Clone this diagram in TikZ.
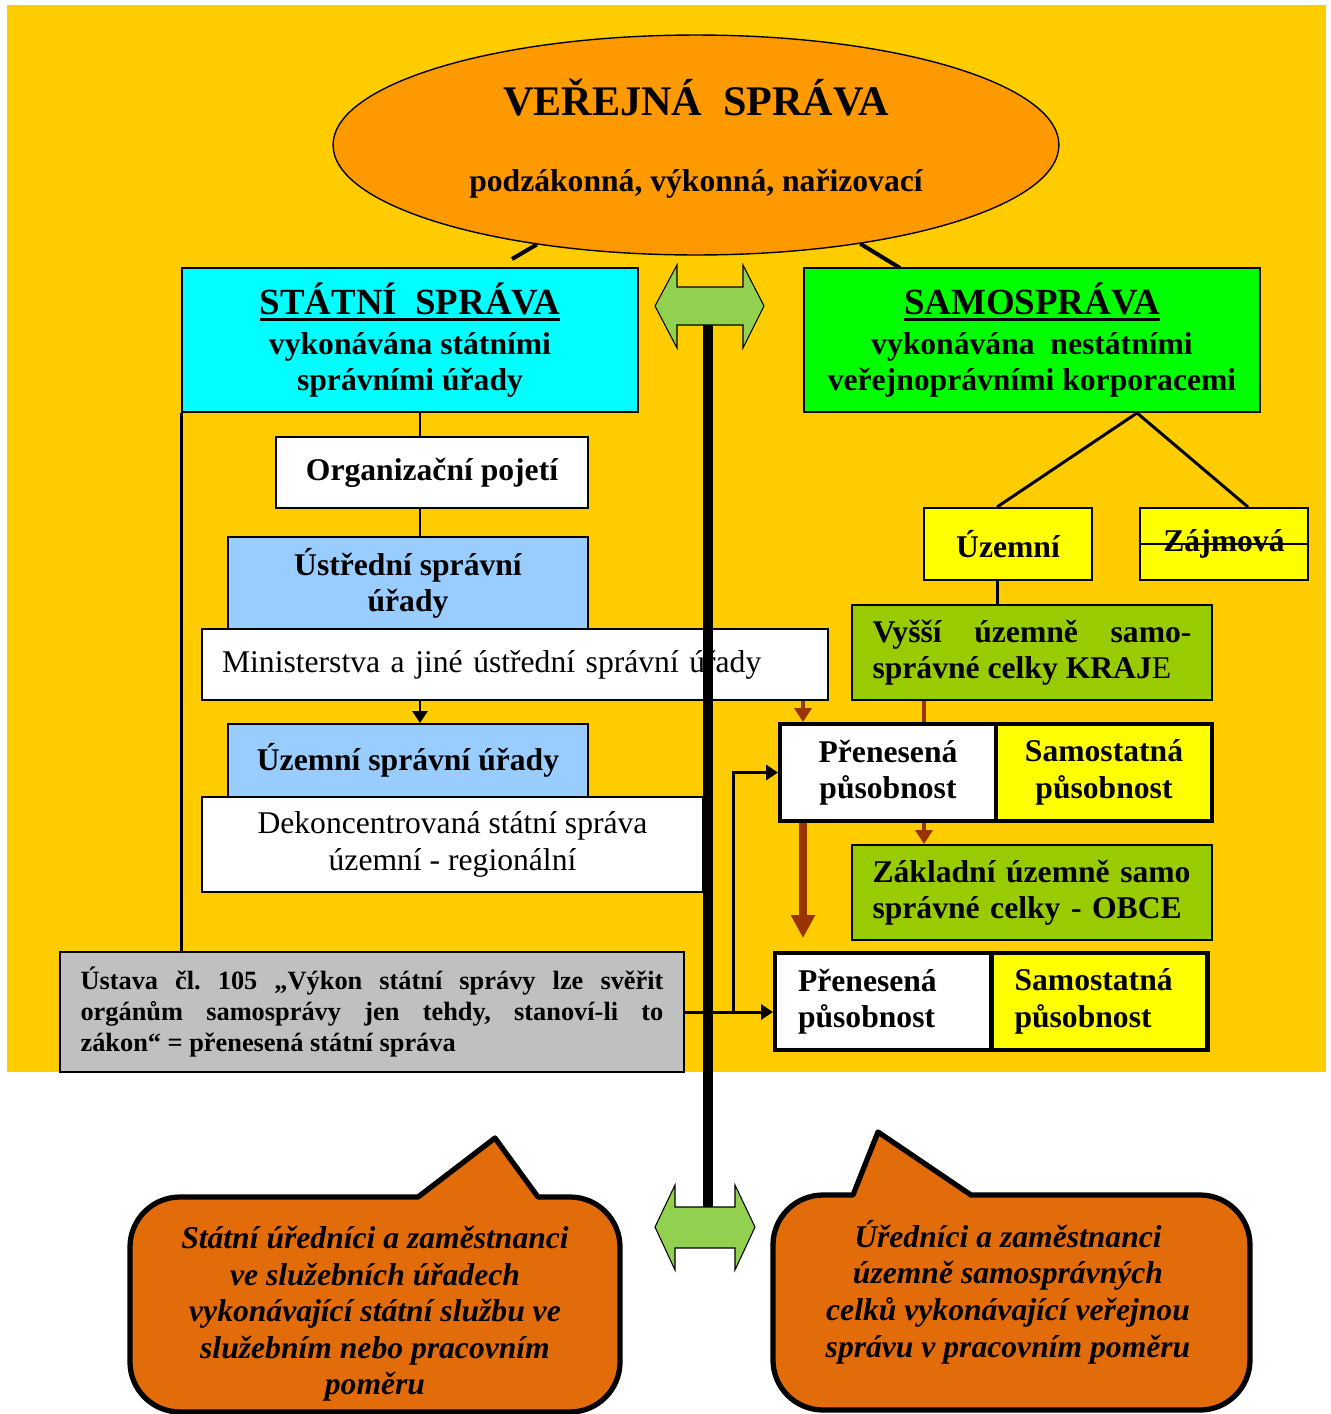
\documentclass[tikz,border=0pt]{standalone}
\usepackage{fontspec}
\setmainfont{Liberation Serif}
\usetikzlibrary{shapes.geometric,arrows.meta}
\tolerance=10000
\hbadness=10000
\frenchspacing
\newcommand{\podtrh}[1]{\setbox0\hbox{#1}\rlap{\rule[-3.6pt]{\wd0}{1.6pt}}\box0}
\definecolor{podklad}{HTML}{FFCC00}
\definecolor{oranzova}{HTML}{FF9900}
\definecolor{azurova}{HTML}{00FFFF}
\definecolor{zelena}{HTML}{00FF00}
\definecolor{modra}{HTML}{99CCFF}
\definecolor{zluta}{HTML}{FFFF00}
\definecolor{olivova}{HTML}{99CC00}
\definecolor{seda}{HTML}{C0C0C0}
\definecolor{cihla}{HTML}{993300}
\definecolor{oranzbub}{HTML}{E36C0A}
\definecolor{zelenasipka}{HTML}{92D050}

\begin{document}
\begin{tikzpicture}[x=0.02cm,y=-0.02cm,
box/.style={draw,line width=1.1pt,inner sep=0pt,align=center,font=\bfseries\fontsize{18}{20.7}\selectfont},
tenka/.style={box,font=\fontsize{18}{20.7}\selectfont},
dvojice/.style={box,line width=2.3pt,minimum width=43.2mm,minimum height=19.4mm},
spoj/.style={line width=1.7pt},
hneda/.style={draw=cihla,line width=2.3pt},
sipka/.style={-{Triangle[length=2.4mm,width=3mm]}},
hsipka/.style={-{Triangle[length=2.8mm,width=3.4mm]}},
bublina/.style={fill=oranzbub,draw,line width=3pt,line join=round},
bubtext/.style={align=center,font=\bfseries\itshape\fontsize{18}{20.8}\selectfont},
dvojsipka/.style={fill=zelenasipka,draw,line width=0.6pt}]
\useasboundingbox (0,0) rectangle (1331,1414);
\fill[podklad] (7,5) rectangle (1326,1072);

\node[ellipse,draw,line width=0.8pt,fill=oranzova,minimum width=14.52cm,minimum height=4.4cm,inner sep=0pt,align=center,font=\bfseries\fontsize{18}{21}\selectfont] (vs) at (696,145) {{\fontsize{24}{28}\selectfont VEŘEJNÁ\ \ SPRÁVA}\\[22pt]podzákonná, výkonná, nařizovací\\[-10pt]\mbox{}};
\coordinate (sl) at (512,259);
\coordinate (sr) at (900,268);
\draw[line width=2.3pt] (vs.212) -- (sl);
\draw[line width=2.3pt] (vs.329) -- (sr);

\node[box,fill=azurova,minimum width=91.2mm,minimum height=28.8mm] (statni) at (410,340) {{\fontsize{21}{26}\selectfont\podtrh{STÁTNÍ\ \ SPRÁVA}}\\[2pt]vykonávána státními\\správními úřady};
\node[box,fill=zelena,minimum width=91.2mm,minimum height=28.8mm] (samo) at (1032,340) {{\fontsize{21}{26}\selectfont\podtrh{SAMOSPRÁVA}}\\[2pt]vykonávána\ \ nestátními\\veřejnoprávními korporacemi};
\node[box,fill=white,minimum width=62.4mm,minimum height=14.2mm] (org) at (432,472.5) {Organizační pojetí};
\node[box,fill=modra,minimum width=72mm,minimum height=18.6mm] (ustredni) at (408,583.5) {Ústřední správní\\úřady};
\node[tenka,fill=white,text width=117.2mm,inner xsep=4mm,align=left,minimum height=14.2mm] (minist) at (515,664.5) {Ministerstva a jiné ústřední správní úřady};
\node[box,fill=modra,minimum width=72mm,minimum height=14.6mm] (uzemnisu) at (408,760.5) {Územní správní úřady};
\node[tenka,fill=white,minimum width=100.2mm,minimum height=19mm] (dekonc) at (452.5,844.5) {Dekoncentrovaná státní správa\\územní - regionální};
\node[box,fill=seda,text width=116.6mm,inner xsep=4.1mm,align=justify,minimum height=24mm,font=\bfseries\fontsize{15}{17.4}\selectfont] (ustava) at (372,1012) {Ústava čl. 105 „Výkon státní správy lze svěřit\linebreak orgánům samosprávy jen tehdy, stanoví-li to\linebreak zákon“ = přenesená státní správa};

\node[box,fill=zluta,minimum width=33.6mm,minimum height=14.4mm] (uzemni) at (1008,544) {Územní};
\node[box,fill=zluta,minimum width=33.6mm,minimum height=14.4mm] (zajmova) at (1224,544) {Zájmová};
\draw[line width=1.1pt] (zajmova.west) -- (zajmova.east);
\node[box,fill=olivova,text width=63.8mm,inner xsep=4.1mm,align=justify,minimum height=19mm] (kraje) at (1032,652.5) {Vyšší územně samo-\linebreak správné celky KRAJ{\mdseries E}};
\node[dvojice,fill=white] (pren1) at (888,772.5) {Přenesená\\působnost};
\node[dvojice,fill=zluta] (samost1) at (1104,772.5) {Samostatná\\působnost};
\node[box,fill=olivova,text width=63.8mm,inner xsep=4.1mm,align=left,minimum height=19mm] (obce) at (1032,892.5) {Základní územně samo\\správné celky - OBCE};
\node[dvojice,fill=white,text width=34mm,inner xsep=4.6mm,align=left] (pren2) at (883,1001.5) {Přenesená\\působnost};
\node[dvojice,fill=zluta,text width=34mm,inner xsep=4.4mm,align=left] (samost2) at (1099.5,1001.5) {Samostatná\\působnost};

\coordinate (osa) at (420,0);
\coordinate (osb) at (803,0);
\coordinate (osk) at (924,0);
\coordinate (osr) at (733,0);
\coordinate (osf) at (1137,0);
\coordinate (osu) at (997,0);
\coordinate (osz) at (1248,0);
\coordinate (hore) at (708,325);
\coordinate (dole) at (708,1207);

\draw[spoj] (statni.south -| osa) -- (org.north -| osa);
\draw[spoj] (org.south -| osa) -- (ustredni.north -| osa);
\draw[spoj,sipka] (minist.south -| osa) -- (uzemnisu.north -| osa);
\draw[spoj] (statni.south west) -- (statni.south west |- ustava.north);
\draw[spoj] (samo.south -| osf) -- (uzemni.north -| osu);
\draw[spoj] (samo.south -| osf) -- (zajmova.north -| osz);
\draw[spoj] (uzemni.south -| osu) -- (kraje.north -| osu);
\draw[hneda] (kraje.south -| osk) -- (pren1.north -| osk);
\draw[hneda,hsipka] (minist.south -| osb) -- (pren1.north -| osb);
\draw[hneda,hsipka] (pren1.south -| osk) -- (obce.north -| osk);
\draw[hneda,line width=4pt,-{Triangle[length=4.6mm,width=4.6mm]},shorten >=2.6mm] (pren1.south -| osb) -- (pren2.north -| osb);
\draw[spoj,sipka] (ustava.east) -- (ustava.east -| pren2.west);
\draw[spoj,sipka] (ustava.east -| osr) |- (pren1.west);

\draw[dvojsipka] (655,306) -- (677,265) -- (677,287) -- (743,287) -- (743,265) -- (764,306) -- (743,348) -- (743,325) -- (677,325) -- (677,348) -- cycle;
\draw[dvojsipka] (655,1227) -- (675,1185) -- (675,1207) -- (735,1207) -- (735,1185) -- (755,1227) -- (735,1270) -- (735,1248) -- (675,1248) -- (675,1270) -- cycle;
\draw[line width=5.7pt] (hore) -- (dole);

\draw[bublina] (130,1300) [rounded corners=10mm] -- (130,1197) [sharp corners] -- (418,1197) -- (495,1138) -- (538,1197) [rounded corners=10mm] -- (620,1197) -- (620,1412) -- (130,1412) -- cycle;
\draw[bublina] (773,1300) [rounded corners=10mm] -- (773,1195) [sharp corners] -- (853,1195) -- (878,1132) -- (971,1195) [rounded corners=10mm] -- (1250,1195) -- (1250,1410) -- (773,1410) -- cycle;
\node[bubtext] (statnizam) at (375,1314) {Státní úředníci a zaměstnanci\\ve služebních úřadech\\vykonávající státní službu ve\\služebním nebo pracovním\\poměru};
\node[bubtext] (samozam) at (1008,1292) {Úředníci a zaměstnanci\\územně samosprávných\\celků vykonávající veřejnou\\správu v pracovním poměru};
\end{tikzpicture}
\end{document}
